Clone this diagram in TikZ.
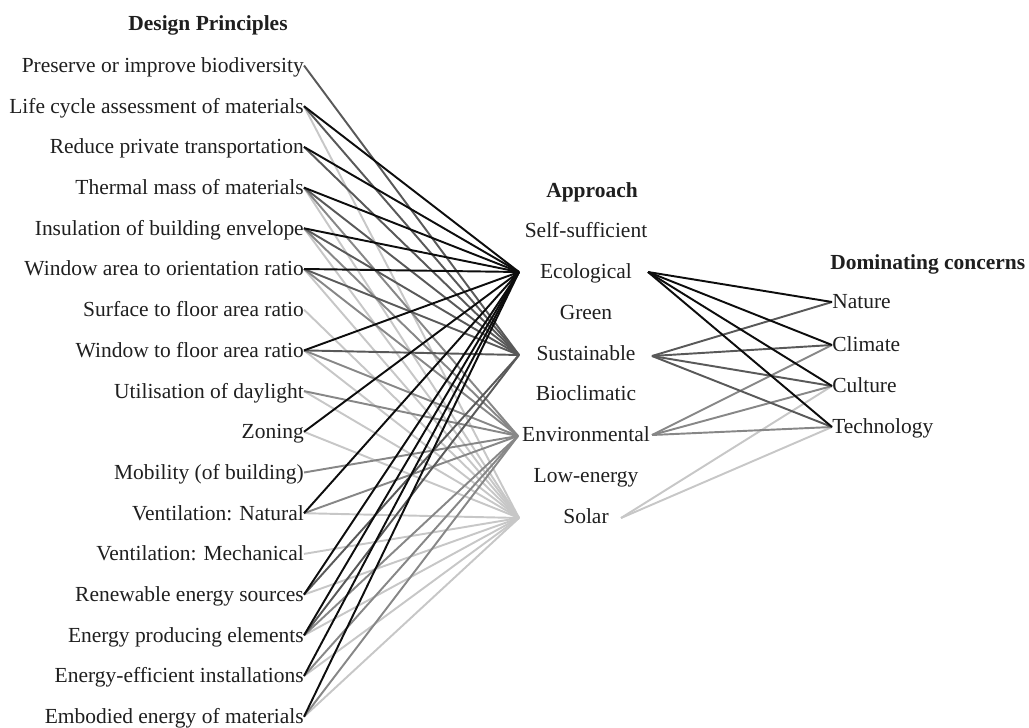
\documentclass[tikz,border=0pt]{standalone}
\usepackage{fontspec}
\setmainfont{Liberation Serif}
\begin{document}
\begin{tikzpicture}[x=0.75pt,y=-0.75pt,
  lbl/.style={inner sep=0pt,text=black!88,font=\fontsize{16.1}{19}\selectfont,
    text height=1.2em,text depth=0.16em},
  head/.style={lbl,font=\fontsize{16.1}{19}\selectfont\bfseries},
  conn/.style={line width=1.45pt},
  ecoline/.style={conn,draw=black!95},
  susline/.style={conn,draw=black!65},
  envline/.style={conn,draw=black!47},
  solline/.style={conn,draw=black!22}]
\useasboundingbox (0,0) rectangle (1029,728);

% headings
\node[head] (hdp) at (208,24) {Design Principles};
\node[head] (hap) at (592,191) {Approach};
\node[head,anchor=west] (hdc) at (830,263) {Dominating concerns};

% design principles, right-aligned
\foreach \i/\t in {1/{Preserve or improve biodiversity},
  2/{Life cycle assessment of materials},
  3/{Reduce private transportation},
  4/{Thermal mass of materials},
  5/{Insulation of building envelope},
  6/{Window area to orientation ratio},
  7/{Surface to floor area ratio},
  8/{Window to floor area ratio},
  9/{Utilisation of daylight},
  10/{Zoning},
  11/{Mobility (of building)},
  12/{Ventilation: Natural},
  13/{Ventilation: Mechanical},
  14/{Renewable energy sources},
  15/{Energy producing elements},
  16/{Energy-efficient installations},
  17/{Embodied energy of materials}}
  \node[lbl,anchor=east] (p\i) at (304,{65.5+40.7*(\i-1)}) {\t};

% approaches
\foreach \n/\t/\y in {self/Self-sufficient/231, eco/Ecological/272, green/Green/313,
  sus/Sustainable/354, bio/Bioclimatic/394, env/Environmental/435,
  low/Low-energy/476, sol/Solar/517}
  \node[lbl] (\n) at (586,\y) {\t};

% entry and exit points of the approach fans
\coordinate (eco-in) at (519,272);
\coordinate (sus-in) at (519,355);
\coordinate (env-in) at (518,436);
\coordinate (sol-in) at (519,518);
\coordinate (eco-out) at (648,272);
\coordinate (sus-out) at (652,356);
\coordinate (env-out) at (652,435);
\coordinate (sol-out) at (621,518);

% dominating concerns
\foreach \n/\t/\y in {nat/Nature/302, cli/Climate/345, cul/Culture/386, tec/Technology/427}
  \node[lbl,anchor=west] (\n) at (832,\y) {\t};

% principle -> approach links
\foreach \i in {2,4,5,6,7,8,9,10,12,13,14,15,16,17}
  \draw[solline] (p\i.east) -- (sol-in);
\foreach \i in {4,5,6,8,9,11,12,15,16,17}
  \draw[envline] (p\i.east) -- (env-in);
\foreach \i in {1,2,3,4,5,6,8,14,15}
  \draw[susline] (p\i.east) -- (sus-in);
\foreach \i in {2,3,4,5,6,8,10,12,14,15,16,17}
  \draw[ecoline] (p\i.east) -- (eco-in);

% approach -> concern links
\foreach \c in {cul,tec}
  \draw[solline] (sol-out) -- (\c.west);
\foreach \c in {cli,cul,tec}
  \draw[envline] (env-out) -- (\c.west);
\foreach \c in {nat,cli,cul,tec}
  \draw[susline] (sus-out) -- (\c.west);
\foreach \c in {nat,cli,cul,tec}
  \draw[ecoline] (eco-out) -- (\c.west);
\end{tikzpicture}
\end{document}
